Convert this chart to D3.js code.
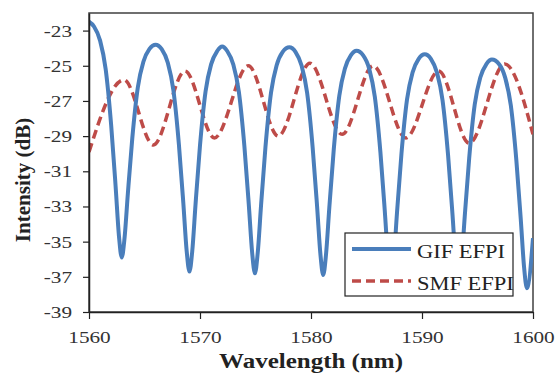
<!DOCTYPE html>
<html>
<head>
<meta charset="utf-8">
<script src="https://cdn.jsdelivr.net/npm/d3@7"></script>
<style>
body { margin: 0; background: #fff; }
svg { display: block; font-family: "Liberation Serif", "Times New Roman", serif; }
</style>
</head>
<body>
<div class="chart-container"></div>
<script>
const totalWidth = 556;
const totalHeight = 373;
const margin = {top: 13, right: 23, bottom: 61, left: 89};
const chartWidth = totalWidth - margin.left - margin.right;
const chartHeight = totalHeight - margin.top - margin.bottom;

// GIF EFPI (blue, solid)
const gifWavelength = [
  1560.0, 1560.45, 1561.0, 1561.5, 1562.0, 1562.4, 1562.7, 1562.95, 1563.2, 1563.5, 1563.9, 1564.4, 1564.9, 1565.45, 1566.0,
  1566.55, 1567.1, 1567.6, 1568.1, 1568.5, 1568.8, 1569.05, 1569.3, 1569.6, 1570.0, 1570.5, 1571.0, 1571.55, 1572.0,
  1572.45, 1573.0, 1573.5, 1574.0, 1574.4, 1574.7, 1574.95, 1575.2, 1575.5, 1575.9, 1576.4, 1576.9, 1577.45, 1578.05,
  1578.6, 1579.15, 1579.65, 1580.15, 1580.55, 1580.85, 1581.1, 1581.35, 1581.65, 1582.05, 1582.55, 1583.05, 1583.6, 1584.1,
  1584.7, 1585.25, 1585.75, 1586.25, 1586.65, 1586.95, 1587.2, 1587.45, 1587.75, 1588.15, 1588.65, 1589.15, 1589.7, 1590.25,
  1590.8, 1591.35, 1591.85, 1592.35, 1592.75, 1593.05, 1593.3, 1593.55, 1593.85, 1594.25, 1594.75, 1595.25, 1595.8, 1596.3,
  1596.95, 1597.5, 1598.0, 1598.5, 1598.9, 1599.2, 1599.45, 1600.0
];
const gifDb = [
  -22.5, -22.77, -23.57, -25.18, -28.4, -31.88, -34.69, -35.9, -34.81, -32.27, -29.12, -26.22, -24.77, -24.04, -23.8,
  -24.06, -24.83, -26.38, -29.48, -32.83, -35.54, -36.7, -35.55, -32.86, -29.53, -26.46, -24.92, -24.16, -23.9,
  -24.16, -24.93, -26.48, -29.58, -32.93, -35.64, -36.8, -35.64, -32.94, -29.6, -26.52, -24.98, -24.21, -23.95,
  -24.21, -24.99, -26.54, -29.65, -33.01, -35.73, -36.9, -35.75, -33.07, -29.76, -26.7, -25.17, -24.4, -24.15,
  -24.41, -25.19, -26.76, -29.89, -33.28, -36.03, -37.2, -36.04, -33.34, -30.0, -26.92, -25.38, -24.61, -24.35,
  -24.61, -25.39, -26.96, -30.09, -33.48, -36.23, -37.4, -36.25, -33.57, -30.26, -27.2, -25.67, -24.9, -24.65,
  -24.91, -25.69, -27.25, -30.37, -33.75, -36.48, -37.65, -34.8
];

// SMF EFPI (red, dashed)
const smfWavelength = [1560.0, 1563.15, 1565.8, 1568.65, 1571.3, 1574.35, 1577.05, 1579.9, 1582.8, 1585.6, 1588.55, 1591.5, 1594.25, 1597.45, 1600.0];
const smfDb = [-29.9, -25.8, -29.5, -25.3, -29.1, -25.0, -29.0, -24.85, -28.9, -25.0, -29.1, -25.3, -29.4, -24.9, -28.9];

const xTicks = [1560, 1570, 1580, 1590, 1600];
const yTicks = [-39, -37, -35, -33, -31, -29, -27, -25, -23];
const seriesNames = ['GIF EFPI', 'SMF EFPI'];

const blue = '#4a7ebb';
const red = '#be4b48';
const stretchX = 1.25;

const svg = d3.select('.chart-container')
  .append('svg')
  .attr('width', totalWidth)
  .attr('height', totalHeight);

const chart = svg.append('g').attr('transform', `translate(${margin.left},${margin.top})`);

const scaleX = d3.scaleLinear().domain([1560, 1600]).range([0, chartWidth]);
const scaleY = d3.scaleLinear().domain([-39, -22]).range([chartHeight, 0]);

// widen text a little, like the source picture
function widen(sel) {
  sel.each(function () {
    const t = d3.select(this);
    const x = +t.attr('x') || 0;
    t.attr('transform', `translate(${x},0) scale(${stretchX},1) translate(${-x},0)`);
  });
}

// frame
chart.append('rect')
  .attr('width', chartWidth)
  .attr('height', chartHeight)
  .attr('fill', 'none')
  .attr('stroke', '#404040')
  .attr('stroke-width', 1.5);

chart.append('clipPath').attr('id', 'clip')
  .append('rect').attr('width', chartWidth).attr('height', chartHeight);

const line = d3.line()
  .x(d => scaleX(d[0]))
  .y(d => scaleY(d[1]))
  .curve(d3.curveMonotoneX);

const plot = chart.append('g').attr('clip-path', 'url(#clip)');

plot.append('path')
  .datum(smfWavelength.map((w, i) => [w, smfDb[i]]))
  .attr('d', line)
  .attr('fill', 'none')
  .attr('stroke', red)
  .attr('stroke-width', 3.5)
  .attr('stroke-dasharray', '9,5');

plot.append('path')
  .datum(gifWavelength.map((w, i) => [w, gifDb[i]]))
  .attr('d', line)
  .attr('fill', 'none')
  .attr('stroke', blue)
  .attr('stroke-width', 4)
  .attr('stroke-linejoin', 'round');

// axes
const xAxis = chart.append('g')
  .attr('transform', `translate(0,${chartHeight})`)
  .call(d3.axisBottom(scaleX).tickValues(xTicks).tickFormat(d => String(d)).tickSize(7).tickSizeOuter(0).tickPadding(12));

const yAxis = chart.append('g')
  .call(d3.axisLeft(scaleY).tickValues(yTicks).tickFormat(d => String(d)).tickSize(6).tickSizeOuter(0).tickPadding(11));

[xAxis, yAxis].forEach(a => {
  a.select('.domain').attr('stroke', '#222').attr('stroke-width', 1.5);
  a.selectAll('.tick line').attr('stroke', '#222').attr('stroke-width', 1.2);
  a.selectAll('.tick text')
    .attr('fill', '#333')
    .style('font-size', '17px')
    .style('font-family', '"Liberation Serif", serif')
    .call(widen);
});

// axis titles
svg.append('text')
  .attr('x', margin.left + chartWidth / 2)
  .attr('y', 368)
  .attr('text-anchor', 'middle')
  .style('font-size', '20px')
  .style('font-weight', 'bold')
  .attr('fill', '#222')
  .text('Wavelength (nm)')
  .call(widen);

svg.append('text')
  .attr('transform', 'translate(30,180) rotate(-90)')
  .attr('text-anchor', 'middle')
  .style('font-size', '21px')
  .style('font-weight', 'bold')
  .attr('fill', '#222')
  .text('Intensity (dB)');

// legend
const legend = svg.append('g').attr('transform', 'translate(345,233)');
legend.append('rect')
  .attr('width', 168)
  .attr('height', 63)
  .attr('fill', '#fff')
  .attr('stroke', '#222')
  .attr('stroke-width', 1.2);

const legendRows = legend.selectAll('.row')
  .data(seriesNames)
  .enter()
  .append('g')
  .attr('class', 'row')
  .attr('transform', (d, i) => `translate(0,${16 + i * 32})`);

legendRows.append('line')
  .attr('x1', 7)
  .attr('x2', 66)
  .attr('stroke', (d, i) => i === 0 ? blue : red)
  .attr('stroke-width', (d, i) => i === 0 ? 4 : 3.5)
  .attr('stroke-dasharray', (d, i) => i === 0 ? null : '9,5');

legendRows.append('text')
  .attr('x', 72)
  .attr('y', 9)
  .style('font-size', '18px')
  .attr('fill', '#222')
  .text(d => d)
  .call(widen);
</script>
</body>
</html>
